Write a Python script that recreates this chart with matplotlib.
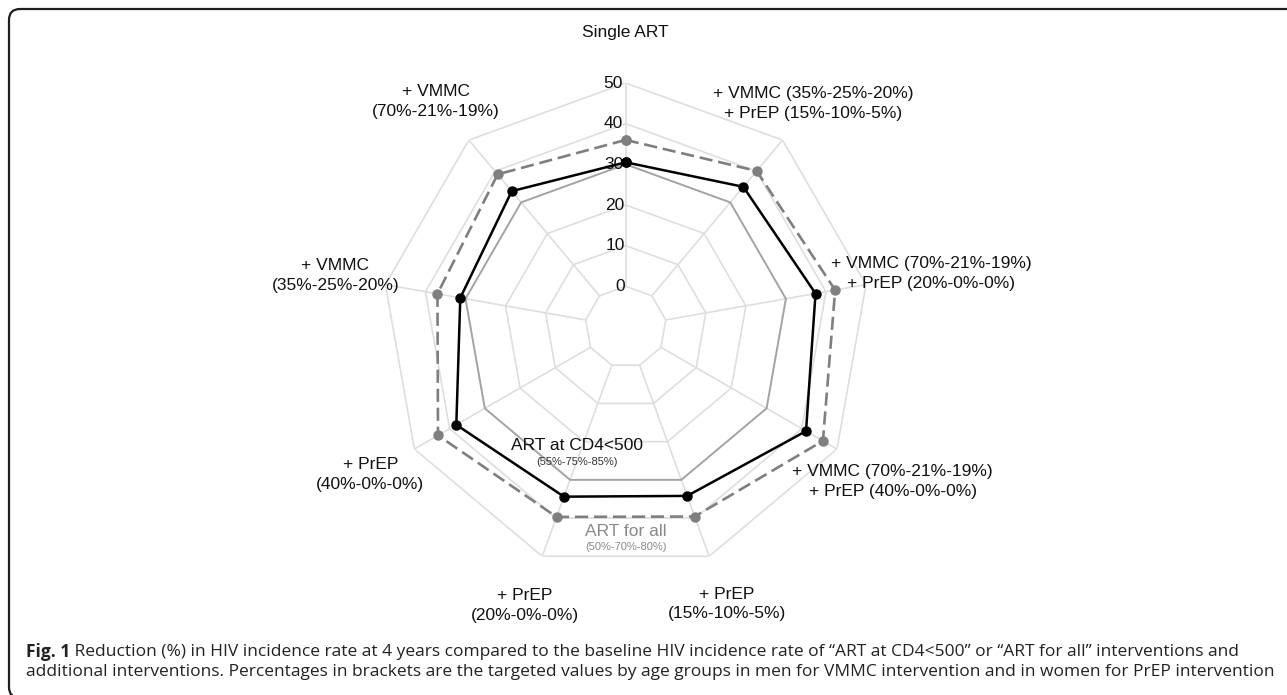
import numpy as np
import matplotlib
matplotlib.use("Agg")
import matplotlib.pyplot as plt
from matplotlib.patches import FancyBboxPatch

# Spoke labels, clockwise from the top
categories = [
    "Single ART",
    "+ VMMC (35%-25%-20%)\n+ PrEP (15%-10%-5%)",
    "+ VMMC (70%-21%-19%)\n+ PrEP (20%-0%-0%)",
    "+ VMMC (70%-21%-19%)\n+ PrEP (40%-0%-0%)",
    "+ PrEP\n(15%-10%-5%)",
    "+ PrEP\n(20%-0%-0%)",
    "+ PrEP\n(40%-0%-0%)",
    "+ VMMC\n(35%-25%-20%)",
    "+ VMMC\n(70%-21%-19%)",
]

# Reduction (%) in HIV incidence rate at 4 years
art_cd4_500 = [30.5, 35.0, 37.4, 41.2, 34.2, 34.4, 38.1, 31.3, 33.6]
art_for_all = [36.0, 40.1, 42.3, 46.0, 39.6, 39.7, 43.3, 37.0, 39.0]

ring_values = [0, 10, 20, 30, 40, 50]
reference_ring = 30
tick_labels = ["0", "10", "20", "30", "40", "50"]

caption_bold = "Fig. 1"
caption_line1 = (" Reduction (%) in HIV incidence rate at 4 years compared to the baseline HIV "
                 "incidence rate of \u201cART at CD4<500\u201d or \u201cART for all\u201d interventions and")
caption_line2 = ("additional interventions. Percentages in brackets are the targeted values by age "
                 "groups in men for VMMC intervention and in women for PrEP intervention")

W, H = 1287, 695
fig = plt.figure(figsize=(W / 100, H / 100), dpi=100)
fig.patch.set_facecolor("white")

FONT = ["Liberation Sans", "DejaVu Sans"]
CAP_FONT = ["Open Sans", "DejaVu Sans"]

# polar axes centred on the web
cx, cy, R = 625.7, 327.0, 244.0
ax = fig.add_axes([(cx - R) / W, (H - cy - R) / H, 2 * R / W, 2 * R / H],
                  projection="polar")
ax.set_theta_zero_location("N")
ax.set_theta_direction(-1)
ax.set_ylim(-10, 50)
ax.grid(False)
ax.set_xticks([])
ax.set_yticks([])
ax.spines["polar"].set_visible(False)
ax.patch.set_alpha(0)

n = len(categories)
theta = np.arange(n) * 2 * np.pi / n
theta_closed = np.append(theta, theta[0])

# polygon grid rings
for v in ring_values:
    ring = np.full(n + 1, v, dtype=float)
    if v == reference_ring:
        ax.plot(theta_closed, ring, color="#a3a3a3", lw=1.4, zorder=2)
    else:
        ax.plot(theta_closed, ring, color="#dedede", lw=1.2, zorder=1)

# spokes
for t in theta:
    ax.plot([t, t], [ring_values[0], ring_values[-1]], color="#dedede", lw=1.2, zorder=1)

# radial tick labels along the top spoke
for v, lab in zip(ring_values, tick_labels):
    ax.text(-0.012, v, lab, ha="right", va="center", fontsize=12.5,
            family=FONT, color="#111111", zorder=3)

# data series
ax.plot(theta_closed, np.append(art_for_all, art_for_all[0]), color="#7f7f7f",
        lw=1.9, ls=(0, (5, 2.2)), marker="o", ms=6.5, mfc="#7f7f7f", mec="#7f7f7f",
        zorder=4)
ax.plot(theta_closed, np.append(art_cd4_500, art_cd4_500[0]), color="#000000",
        lw=1.8, marker="o", ms=6.5, zorder=5)

# spoke labels
label_r = [62.5, 61.8, 66.2, 65.8, 62.5, 62.8, 62.5, 62.5, 62.5]
for t, lab, r in zip(theta, categories, label_r):
    ax.text(t, r, lab, ha="center", va="center", fontsize=12.5, family=FONT,
            color="#111111", linespacing=1.4, zorder=6)

# series labels inside the web
fig.text(576.7 / W, 1 - 445.7 / H, "ART at CD4<500", ha="center", va="center",
         fontsize=12.5, family=FONT, color="#111111")
fig.text(576.7 / W, 1 - 462 / H, "(55%-75%-85%)", ha="center", va="center",
         fontsize=8, family=FONT, color="#333333")
fig.text(625.7 / W, 1 - 531.7 / H, "ART for all", ha="center", va="center",
         fontsize=12.5, family=FONT, color="#8a8a8a")
fig.text(625.7 / W, 1 - 547 / H, "(50%-70%-80%)", ha="center", va="center",
         fontsize=8, family=FONT, color="#8a8a8a")

# caption
t1 = fig.text(26 / W, 1 - 652 / H, caption_bold, ha="left", va="center",
              fontsize=12.5, family=CAP_FONT, fontweight="bold", color="#222222")
fig.canvas.draw()
bb = t1.get_window_extent()
fig.text(bb.x1 / W, 1 - 652 / H, caption_line1, ha="left", va="center",
         fontsize=12.5, family=CAP_FONT, color="#222222")
fig.text(26 / W, 1 - 672 / H, caption_line2, ha="left", va="center",
         fontsize=12.5, family=CAP_FONT, color="#222222")

# frame around the figure panel
frame = FancyBboxPatch((0.09, -0.03), 14.0, 6.86 + 0.03, boxstyle="round,pad=0,rounding_size=0.11",
                       transform=fig.dpi_scale_trans, fill=False, lw=1.6,
                       edgecolor="#1e1e1e", clip_on=False)
fig.patches.append(frame)

fig.savefig("out.png", dpi=100, facecolor="white")
